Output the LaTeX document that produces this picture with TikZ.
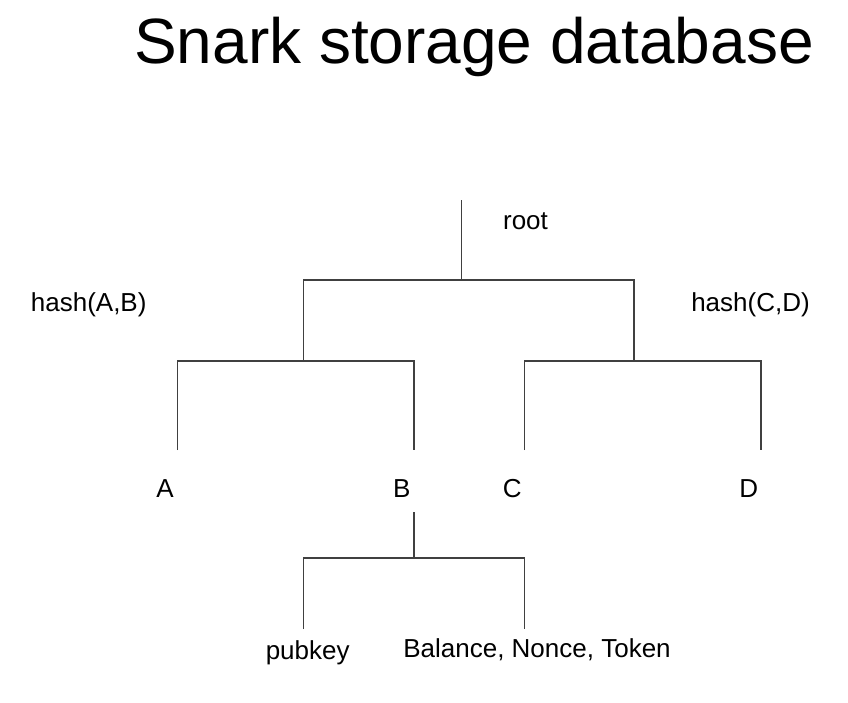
\documentclass[tikz,border=0pt]{standalone}
\usepackage{fontspec}
\setmainfont{Liberation Sans}
\tikzset{
  lbl/.style={anchor=base, inner sep=0pt, font=\fontsize{26}{30}\selectfont},
  branch/.style={draw=black!75, line width=1.4pt}
}
\begin{document}
\begin{tikzpicture}[x=1pt, y=-1pt]
        \useasboundingbox (0, 0) rectangle (848, 702);
        \node[anchor=base, inner sep=0pt, font=\fontsize{64}{70}\selectfont] (title) at (474, 63) {Snark storage database};
        % labels
        \node[lbl] (root) at (525.5, 229) {root};
        \node[lbl] (hashab) at (88.7, 311.5) {hash(A,B)};
        \node[lbl] (hashcd) at (750.5, 311.5) {hash(C,D)};
        \node[lbl] (a) at (165, 497.5) {A};
        \node[lbl] (b) at (401.7, 497.5) {B};
        \node[lbl] (c) at (512.3, 497.5) {C};
        \node[lbl] (d) at (748.7, 497.5) {D};
        \node[lbl] (pubkey) at (307.7, 659) {pubkey};
        \node[lbl] (balance) at (537, 657.5) {Balance, Nonce, Token};
        % tree joints
        \coordinate (top) at (461.3, 200);
        \coordinate (j0) at (461.3, 280);
        \coordinate (jab) at (303.7, 361);
        \coordinate (jcd) at (634, 361);
        \coordinate (ea) at (177.7, 450);
        \coordinate (eb) at (414, 450);
        \coordinate (ec) at (524.3, 450);
        \coordinate (ed) at (761, 450);
        \coordinate (sb) at (414, 512.3);
        \coordinate (jb) at (414, 558);
        \coordinate (epub) at (303.7, 629);
        \coordinate (ebal) at (524.3, 629);
        \draw[branch] (top) -- (j0);
        \draw[branch] (jab) -- (jab |- j0) -- (jcd |- j0) -- (jcd);
        \draw[branch] (ea) -- (ea |- jab) -- (eb |- jab) -- (eb);
        \draw[branch] (ec) -- (ec |- jcd) -- (ed |- jcd) -- (ed);
        \draw[branch] (sb) -- (jb);
        \draw[branch] (epub) -- (epub |- jb) -- (ebal |- jb) -- (ebal);
      \end{tikzpicture}
\end{document}
